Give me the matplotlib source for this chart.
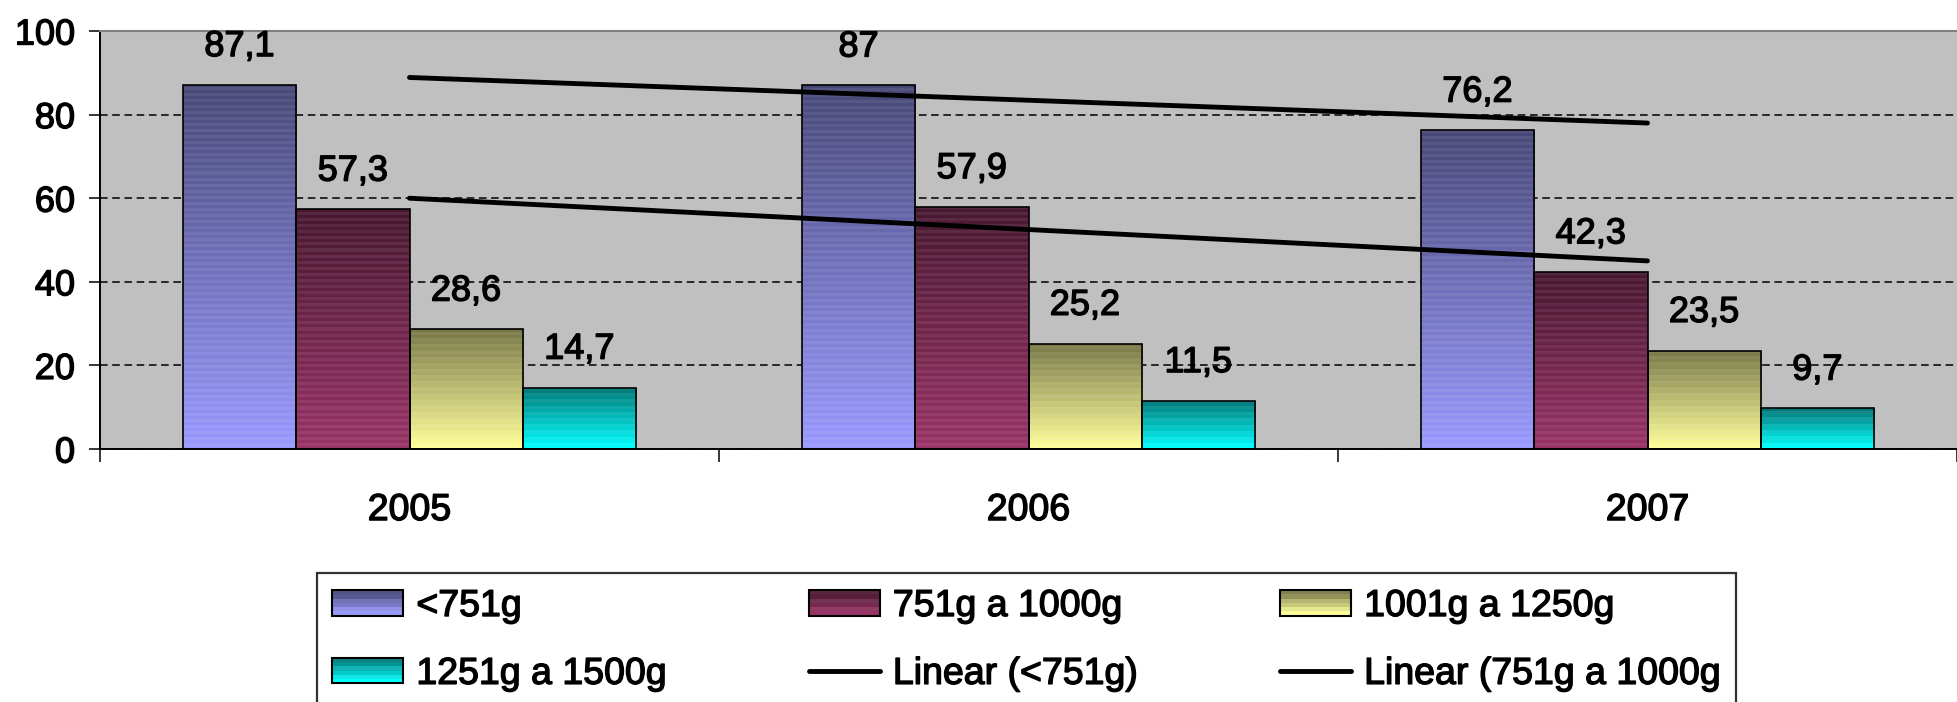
import numpy as np
import matplotlib
matplotlib.use("Agg")
import matplotlib.pyplot as plt
import matplotlib.patheffects as pe
from matplotlib.patches import Rectangle
from matplotlib.legend_handler import HandlerBase
from matplotlib.colors import to_rgb

plt.rcParams['font.family'] = ['Liberation Sans', 'DejaVu Sans']

years = ["2005", "2006", "2007"]
series_names = ["<751g", "751g a 1000g", "1001g a 1250g", "1251g a 1500g"]
vals_751 = [87.1, 87.0, 76.2]
vals_1000 = [57.3, 57.9, 42.3]
vals_1250 = [28.6, 25.2, 23.5]
vals_1500 = [14.7, 11.5, 9.7]
value_labels = [["87,1", "87", "76,2"],
                ["57,3", "57,9", "42,3"],
                ["28,6", "25,2", "23,5"],
                ["14,7", "11,5", "9,7"]]
trend_names = ["Linear (<751g)", "Linear (751g a 1000g"]

all_vals = [vals_751, vals_1000, vals_1250, vals_1500]
colors = ["#9999ff", "#993366", "#ffff99", "#00ffff"]

# a little heavier text, the original looks thick
heavy = [pe.withStroke(linewidth=1.0, foreground="black")]


def grad_img(color, nrows):
    # dark at top, base colour at the bottom, with faint stripes
    base = np.array(to_rgb(color))
    t = np.linspace(0, 1, nrows)[:, None]          # 0 bottom -> 1 top
    img = base * (1 - 0.53 * t)
    stripe = (np.arange(nrows) % 2 == 1)[:, None]
    img = np.where(stripe, img * 0.93 + 0.07, img)
    return img[:, None, :]


class GradientHandler(HandlerBase):
    def __init__(self, color):
        super().__init__()
        self.color = color

    def create_artists(self, legend, orig_handle, xdescent, ydescent,
                       width, height, fontsize, trans):
        img = grad_img(self.color, 6)
        arts = []
        n = img.shape[0]
        for k in range(n):
            r = Rectangle((-xdescent, -ydescent + k * height / n), width, height / n,
                          facecolor=img[k, 0], edgecolor="none", transform=trans)
            arts.append(r)
        arts.append(Rectangle((-xdescent, -ydescent), width, height, fill=False,
                              edgecolor="black", linewidth=1.5, transform=trans))
        return arts


fig = plt.figure(figsize=(19.57, 7.02), dpi=100)
ax = fig.add_axes([100 / 1957, 1 - 449 / 702, 1 - 100 / 1957, (449 - 31) / 702])
ax.set_facecolor("#c0c0c0")

x = np.arange(len(years))
w = 0.183
containers = []
for i, vals in enumerate(all_vals):
    xs = x + (i - 1.5) * w
    bars = ax.bar(xs, vals, w, facecolor="none", edgecolor="black",
                  linewidth=1.2, zorder=3, label=series_names[i])
    containers.append(bars)
    for rect, v in zip(bars, vals):
        x0 = rect.get_x()
        nrows = max(2, int(v * 4.18 / 3))
        im = ax.imshow(grad_img(colors[i], nrows), extent=[x0, x0 + w, 0, v],
                       origin="lower", aspect="auto", zorder=2,
                       interpolation="nearest")
        im.set_clip_path(rect)
    for xi, v, lab in zip(xs, vals, value_labels[i]):
        ax.annotate(lab, (xi, v), xytext=(0, 15), textcoords="offset points",
                    ha="center", va="bottom", fontsize=26, zorder=5,
                    path_effects=heavy)

# linear trend lines
trend_lines = []
for vals, name in zip([vals_751, vals_1000], trend_names):
    k, b = np.polyfit(x, vals, 1)
    ln, = ax.plot([x[0], x[-1]], [k * x[0] + b, k * x[-1] + b], color="black",
                  linewidth=3.5, zorder=4, label=name, solid_capstyle="round")
    trend_lines.append(ln)

ax.set_xlim(-0.5, -0.5 + (1957 - 100) / 624)
ax.set_ylim(0, 100)
ax.set_yticks([0, 20, 40, 60, 80, 100])
ax.yaxis.grid(True, color="black", linestyle=(0, (5, 3)), linewidth=1.1, zorder=1)
ax.set_axisbelow(True)
ax.tick_params(axis="y", direction="out", length=8, width=1.1, labelsize=26, pad=10)

ax.set_xticks([-0.5, 0.5, 1.5, 2.5])
ax.set_xticklabels([])
ax.set_xticks(x, minor=True)
ax.set_xticklabels(years, minor=True)
ax.tick_params(axis="x", which="major", direction="out", length=9, width=1.1)
ax.tick_params(axis="x", which="minor", length=0, labelsize=27, pad=31)
for t in ax.get_yticklabels() + ax.get_xticklabels(minor=True):
    t.set_path_effects(heavy)

for s in ["left", "bottom"]:
    ax.spines[s].set_color("black")
    ax.spines[s].set_linewidth(1.4)
ax.spines["top"].set_color("#808080")
ax.spines["top"].set_linewidth(1.5)
ax.spines["right"].set_visible(False)

# legend, filled column-wise so reorder to match rows
handles = [containers[0], containers[3], containers[1], trend_lines[0],
           containers[2], trend_lines[1]]
labels = [series_names[0], series_names[3], series_names[1], trend_names[0],
          series_names[2], trend_names[1]]
hmap = {c: GradientHandler(col) for c, col in zip(containers, colors)}
leg = fig.legend(handles, labels, loc="upper left",
                 bbox_to_anchor=(317 / 1957, 1 - 573 / 702), ncol=3,
                 fontsize=27, frameon=True, fancybox=False, framealpha=1,
                 edgecolor="#333333", borderaxespad=0, borderpad=0.4,
                 handlelength=1.9, handleheight=0.67, handletextpad=0.35,
                 columnspacing=3.78, labelspacing=0.85, handler_map=hmap)
leg.get_frame().set_linewidth(1.6)
for t in leg.get_texts():
    t.set_path_effects(heavy)

fig.savefig("out.png", dpi=100)
